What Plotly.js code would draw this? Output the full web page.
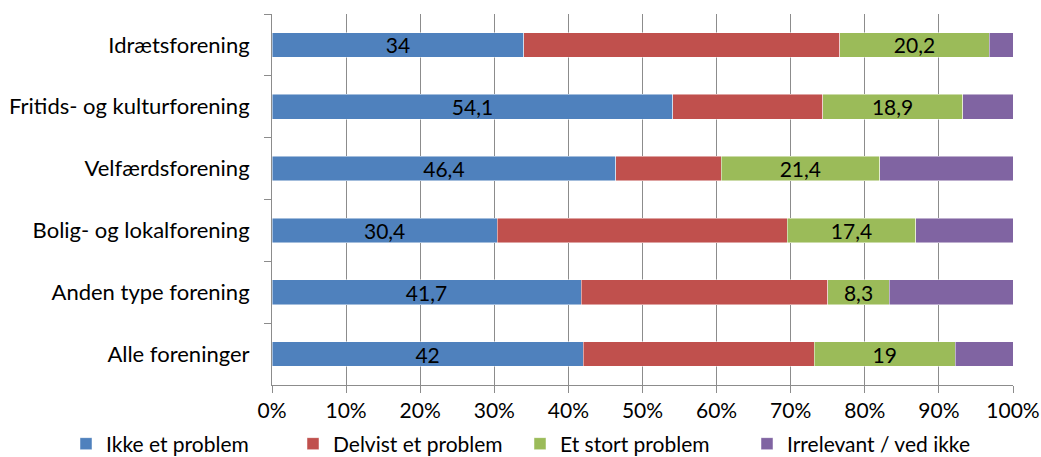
<!DOCTYPE html>
<html>
<head>
<meta charset="utf-8">
<script src="https://cdn.plot.ly/plotly-3.0.1.min.js"></script>
<style>html,body{margin:0;padding:0;background:#fff;}#chart{width:1041px;height:457px;}</style>
</head>
<body>
<div id="chart"></div>
<script>
const categories = ["Idrætsforening", "Fritids- og kulturforening", "Velfærdsforening", "Bolig- og lokalforening", "Anden type forening", "Alle foreninger"];
const ikkeEtProblem = [34, 54.1, 46.4, 30.4, 41.7, 42];
const delvistEtProblem = [42.6, 20.2, 14.2, 39.1, 33.3, 31.2];
const etStortProblem = [20.2, 18.9, 21.4, 17.4, 8.3, 19];
const irrelevant = [3.2, 6.8, 18, 13.1, 16.7, 7.8];
const seriesNames = ["Ikke et problem", "Delvist et problem", "Et stort problem", "Irrelevant / ved ikke"];
const xTickVals = [0, 10, 20, 30, 40, 50, 60, 70, 80, 90, 100];
const xTickText = ["0%", "10%", "20%", "30%", "40%", "50%", "60%", "70%", "80%", "90%", "100%"];

const colors = ["#4F81BD", "#C0504D", "#9BBB59", "#8064A2"];
const series = [ikkeEtProblem, delvistEtProblem, etStortProblem, irrelevant];
const showLabels = [true, false, true, false];
const font = "Lato, 'Open Sans', sans-serif";
const fs = 21;

const traces = series.map((vals, i) => ({
  type: "bar",
  orientation: "h",
  name: seriesNames[i],
  y: categories,
  x: vals,
  marker: {color: colors[i], line: {color: "rgba(255,255,255,0.6)", width: 0.8}},
  texttemplate: showLabels[i] ? "%{x}" : "",
  textposition: showLabels[i] ? "inside" : "none",
  insidetextanchor: "middle",
  textangle: 0,
  textfont: {family: font, size: fs, color: "#000"},
  constraintext: "none",
  hoverinfo: "x+name"
}));

const layout = {
  width: 1041,
  height: 457,
  margin: {l: 272, r: 28, t: 14, b: 72, autoexpand: false},
  barmode: "stack",
  bargap: 0.6,
  separators: ",.",
  paper_bgcolor: "#fff",
  plot_bgcolor: "#fff",
  font: {family: font, size: fs, color: "#000"},
  xaxis: {
    range: [0, 100],
    tickvals: xTickVals,
    ticktext: xTickText,
    showgrid: true,
    gridcolor: "#8c8c8c",
    gridwidth: 1,
    zeroline: false,
    showline: true,
    linecolor: "#8c8c8c",
    linewidth: 1,
    ticks: "outside",
    ticklen: 7,
    tickcolor: "#8c8c8c",
    tickfont: {family: font, size: fs, color: "#000"},
    fixedrange: true
  },
  yaxis: {
    type: "category",
    autorange: "reversed",
    showline: true,
    linecolor: "#8c8c8c",
    linewidth: 1,
    ticks: "outside",
    tickson: "boundaries",
    ticklen: 7,
    tickcolor: "#8c8c8c",
    showgrid: false,
    tickfont: {family: font, size: 22, color: "#000"},
    ticklabelstandoff: 17,
    fixedrange: true
  },
  legend: {
    orientation: "h",
    x: -0.278,
    xref: "paper",
    xanchor: "left",
    y: -0.159,
    yref: "paper",
    yanchor: "middle",
    entrywidth: 182,
    entrywidthmode: "pixels",
    itemwidth: 30,
    font: {family: font, size: fs, color: "#000"},
    traceorder: "normal"
  },
  showlegend: true
};

Plotly.newPlot("chart", traces, layout, {displayModeBar: false, staticPlot: true});
</script>
</body>
</html>
